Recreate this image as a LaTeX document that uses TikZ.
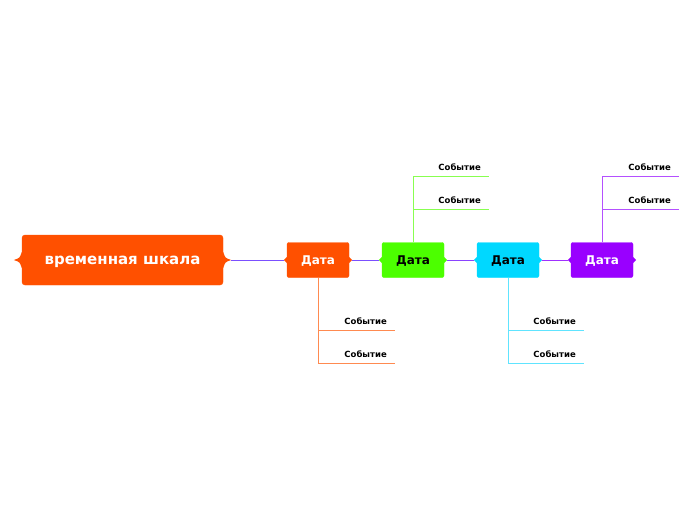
\documentclass[tikz,border=0pt]{standalone}
\usepackage{fontspec}
\setmainfont{DejaVu Sans}
\usetikzlibrary{positioning,calc}
\definecolor{tlaranja}{HTML}{FF5000}
\definecolor{tverde}{HTML}{4CFF00}
\definecolor{tciano}{HTML}{00D8FF}
\definecolor{troxo}{HTML}{9900FF}
\definecolor{tlinha}{HTML}{7B4FFF}
\definecolor{tlinharoxa}{HTML}{A030FF}
\definecolor{tramolaranja}{HTML}{FF8A50}
\definecolor{tramoverde}{HTML}{88FF50}
\definecolor{tramociano}{HTML}{60E4FF}
\definecolor{tramoroxo}{HTML}{B450FF}
\tikzset{
  ttitulo/.style={fill=tlaranja, draw=tlaranja, rounded corners=3pt, text=white, text depth=0pt,
                  font=\fontsize{15}{18}\selectfont\bfseries, minimum width=201pt, minimum height=50pt},
  tdata/.style={fill=#1, draw=#1, rounded corners=2pt, font=\fontsize{12}{14}\selectfont\bfseries,
                text depth=0pt, minimum width=62pt, minimum height=35pt},
  tevento/.style={font=\fontsize{8.5}{10}\selectfont\bfseries, anchor=south east,
                  inner xsep=8pt, inner ysep=5pt},
  tramo/.style={draw=#1, line width=0.8pt},
}
\begin{document}
\begin{tikzpicture}[x=1pt, y=-1pt]
    \useasboundingbox (0,0) rectangle (696,520);
    % titulo e datas
    \node[ttitulo] (tit) at (122.5,260) {временная шкала};
    \node[tdata=tlaranja, text=white] (d1) at (318,260) {Дата};
    \node[tdata=tverde] (d2) at (413,260) {Дата};
    \node[tdata=tciano] (d3) at (508,260) {Дата};
    \node[tdata=troxo, text=white] (d4) at (602,260) {Дата};
    % pontas
    \fill[tlaranja] ([yshift=-8pt]tit.west) .. controls ([xshift=-2pt,yshift=-2pt]tit.west) .. ([xshift=-8pt]tit.west)
        .. controls ([xshift=-2pt,yshift=2pt]tit.west) .. ([yshift=8pt]tit.west) -- cycle;
    \fill[tlaranja] ([yshift=-8pt]tit.east) .. controls ([xshift=2pt,yshift=-2pt]tit.east) .. ([xshift=8pt]tit.east)
        .. controls ([xshift=2pt,yshift=2pt]tit.east) .. ([yshift=8pt]tit.east) -- cycle;
    \foreach \d/\c in {d1/tlaranja,d2/tverde,d3/tciano,d4/troxo} {
        \fill[\c] ([yshift=-3pt]\d.east) -- ([xshift=3pt]\d.east) -- ([yshift=3pt]\d.east) -- cycle;
        \fill[\c] ([yshift=-3pt]\d.west) -- ([xshift=-3pt]\d.west) -- ([yshift=3pt]\d.west) -- cycle;
    }
    % linha do tempo
    \draw[tramo=tlinha] ([xshift=8pt]tit.east) -- ([xshift=-3pt]d1.west);
    \draw[tramo=tlinha] ([xshift=3pt]d1.east) -- ([xshift=-3pt]d2.west);
    \draw[tramo=tlinha!60!tlinharoxa] ([xshift=3pt]d2.east) -- ([xshift=-3pt]d3.west);
    \draw[tramo=tlinharoxa] ([xshift=3pt]d3.east) -- ([xshift=-3pt]d4.west);
    % eventos
    \node[tevento] (e1a) at (395,330) {Событие};
    \node[tevento] (e1b) at (395,363) {Событие};
    \node[tevento] (e2a) at (489,176) {Событие};
    \node[tevento] (e2b) at (489,209) {Событие};
    \node[tevento] (e3a) at (584,330) {Событие};
    \node[tevento] (e3b) at (584,363) {Событие};
    \node[tevento] (e4a) at (679,176) {Событие};
    \node[tevento] (e4b) at (679,209) {Событие};
    \draw[tramo=tramolaranja] (d1.south) |- (e1a.south east);
    \draw[tramo=tramolaranja] (d1.south) |- (e1b.south east);
    \draw[tramo=tramoverde] (d2.north) |- (e2a.south east);
    \draw[tramo=tramoverde] (d2.north) |- (e2b.south east);
    \draw[tramo=tramociano] (d3.south) |- (e3a.south east);
    \draw[tramo=tramociano] (d3.south) |- (e3b.south east);
    \draw[tramo=tramoroxo] (d4.north) |- (e4a.south east);
    \draw[tramo=tramoroxo] (d4.north) |- (e4b.south east);
\end{tikzpicture}
\end{document}
